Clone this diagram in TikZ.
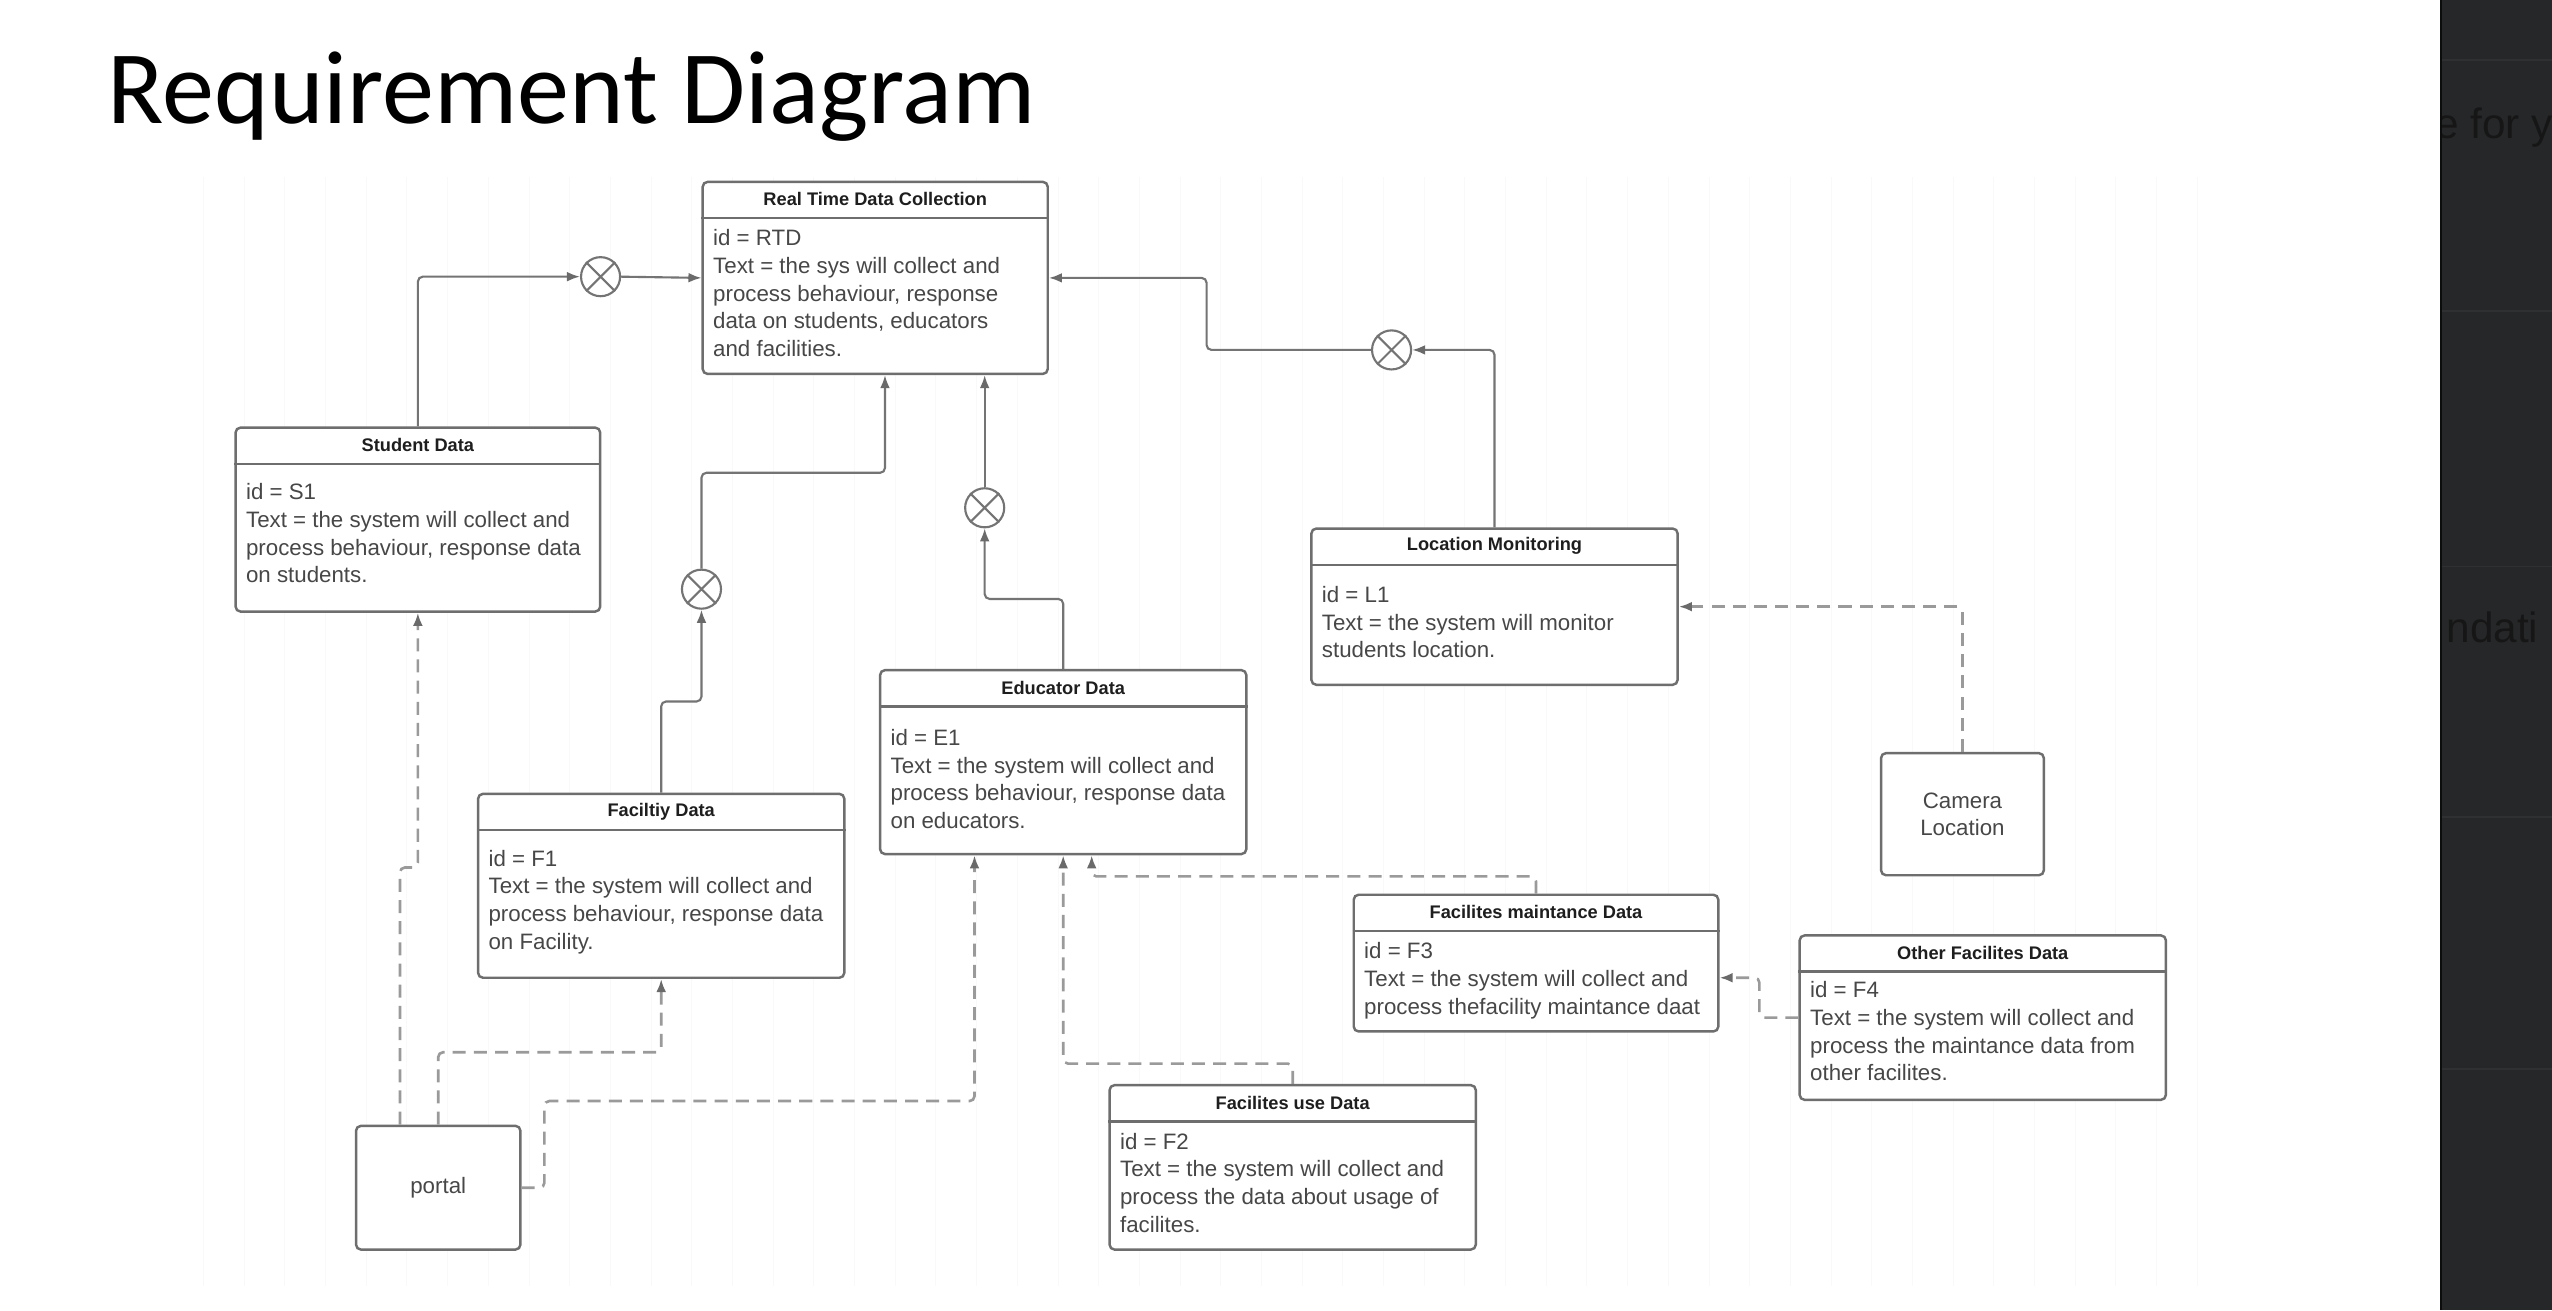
\documentclass[tikz,border=0pt]{standalone}
\usepackage{fontspec}
\setmainfont{Liberation Sans}
\newfontfamily\titlefont{Carlito}
\usetikzlibrary{arrows.meta}

\definecolor{boxline}{HTML}{6E6E6E}
\definecolor{bodytext}{HTML}{474747}
\definecolor{hdrtext}{HTML}{1E1E1E}
\definecolor{solidline}{HTML}{747474}
\definecolor{dashline}{HTML}{9A9A9A}
\definecolor{tipcol}{HTML}{6A6A6A}
\definecolor{panelcol}{HTML}{262728}
\definecolor{panelline}{HTML}{2F3031}
\definecolor{paneltext}{HTML}{161617}
\definecolor{gridcol}{HTML}{F9F9F9}

\newcommand{\ReqBlock}[8]{%
  \node[reqbox, minimum width=#4pt, minimum height=#5pt] (#1) at (#2,#3) {};
  \draw[sepline] ([yshift=-23pt]#1.north west) -- ([yshift=-23pt]#1.north east);
  \node[hdr] (#1-title) at ([yshift=-11.5pt]#1.north) {#6};
  \node[bodytxt] (#1-body) at ([xshift=7pt,yshift=-#7pt]#1.north west) {#8};
}

\begin{document}
\begin{tikzpicture}[x=1pt,y=-1pt,
  reqbox/.style={draw=boxline, line width=1.5pt, rounded corners=3pt, fill=white, anchor=north west, inner sep=0pt},
  simplebox/.style={draw=boxline, line width=1.5pt, rounded corners=3pt, fill=white, anchor=north west, inner sep=0pt, align=center, text=bodytext, font=\fontsize{13.7}{17}\selectfont},
  sepline/.style={draw=boxline, line width=1.5pt},
  hdr/.style={font=\fontsize{11.2}{13}\selectfont\bfseries, text=hdrtext, inner sep=0pt},
  bodytxt/.style={font=\fontsize{13.7}{17}\selectfont, text=bodytext, align=left, anchor=north west, inner sep=0pt},
  xcirc/.style={circle, draw=solidline, line width=1.3pt, minimum size=24pt, inner sep=0pt, fill=white},
  xmark/.style={draw=solidline, line width=1.3pt},
  solidconn/.style={draw=solidline, line width=1.3pt, rounded corners=3pt, -{Latex[length=8pt,width=6pt,color=tipcol]}},
  dashconn/.style={draw=dashline, line width=1.6pt, dash pattern=on 8pt off 5pt, rounded corners=3pt, -{Latex[length=8pt,width=6pt,color=tipcol]}},
]
\useasboundingbox (0,0) rectangle (1568,805);
\fill[white] (0,0) rectangle (1568,805);

% faint canvas grid
\draw[gridcol, line width=0.5pt, step=25] (122,109) grid (1350,790);

% title
\node[font=\titlefont\fontsize{64}{70}\selectfont, anchor=base west, inner sep=0pt] (title) at (66,76) {Requirement Diagram};

% requirement blocks
\ReqBlock{rtd}{431}{111}{212}{118}{Real Time Data Collection}{30}{id = RTD\\Text = the sys will collect and\\process behaviour, response\\data on students, educators\\and facilities.}
\ReqBlock{sd}{144}{262}{224}{113}{Student Data}{35}{id = S1\\Text = the system will collect and\\process behaviour, response data\\on students.}
\ReqBlock{fd}{293}{487}{225}{113}{Faciltiy Data}{35}{id = F1\\Text = the system will collect and\\process behaviour, response data\\on Facility.}
\ReqBlock{ed}{540}{411}{225}{113}{Educator Data}{37}{id = E1\\Text = the system will collect and\\process behaviour, response data\\on educators.}
\ReqBlock{lm}{805}{324}{225}{96}{Location Monitoring}{36}{id = L1\\Text = the system will monitor\\students location.}
\ReqBlock{fm}{831}{549}{224}{84}{Facilites maintance Data}{30}{id = F3\\Text = the system will collect and\\process thefacility maintance daat}
\ReqBlock{of}{1105}{574}{225}{101}{Other Facilites Data}{29}{id = F4\\Text = the system will collect and\\process the maintance data from\\other facilites.}
\ReqBlock{fu}{681}{666}{225}{101}{Facilites use Data}{30}{id = F2\\Text = the system will collect and\\process the data about usage of\\facilites.}

% simple blocks
\node[simplebox, minimum width=100pt, minimum height=75pt] (cam) at (1155,462) {Camera\\Location};
\node[simplebox, minimum width=101pt, minimum height=76pt] (portal) at (218,691) {portal};

% containment circles
\node[xcirc] (c1) at (369,170) {};
\node[xcirc] (c2) at (431,362) {};
\node[xcirc] (c3) at (605,312) {};
\node[xcirc] (c4) at (855,215) {};
\foreach \c in {c1,c2,c3,c4}{
  \draw[xmark] (\c.north west) -- (\c.south east) (\c.north east) -- (\c.south west);
}

% solid containment connectors
\draw[solidconn] (sd.north) |- (c1.west);
\draw[solidconn] (c1.east) -- (rtd.west);
\draw[solidconn] (fd.north) -- ++(0,-56) -| (c2.south);
\draw[solidconn] (c2.north) |- ([xshift=6pt,yshift=-60pt]rtd.south) -- ([xshift=6pt]rtd.south);
\draw[solidconn] (ed.north) -- ++(0,-43) -| (c3.south);
\draw[solidconn] (c3.north) -- (c3.north |- rtd.south);
\draw[solidconn] (lm.north) |- (c4.east);
\draw[solidconn] (c4.west) -- ++(-101,0) |- (rtd.east);

% dashed connectors
\draw[dashconn] ([xshift=-23.5pt]portal.north) -- ++(0,-158) -| (sd.south);
\draw[dashconn] (portal.north) |- ([yshift=-45pt]fd.south) -- (fd.south);
\draw[dashconn] (portal.east) -- ++(14,0) |- ([xshift=-54.5pt,yshift=-151pt]ed.south) -- ([xshift=-54.5pt]ed.south);
\draw[dashconn] (fu.north) |- ([yshift=-128pt]ed.south) -- (ed.south);
\draw[dashconn] (fm.north) |- ([xshift=17.5pt,yshift=-13pt]ed.south) -- ([xshift=17.5pt]ed.south);
\draw[dashconn] (of.west) -- ++(-24,0) |- ([yshift=-9pt]fm.east);
\draw[dashconn] (cam.north) |- (lm.east);

% dark side panel
\fill[panelcol] (1500,0) rectangle (1568,805);
\draw[panelline, line width=1pt] (1500,37) -- (1568,37) (1500,191) -- (1568,191) (1500,348) -- (1568,348) (1500,502) -- (1568,502) (1500,657) -- (1568,657);
\draw[black!70!panelcol, line width=1.2pt] (1500,0) -- (1500,805);
\begin{scope}
  \clip (1500.6,0) rectangle (1568,805);
  \node[font=\fontsize{26}{30}\selectfont, text=paneltext, anchor=base west, inner sep=0pt] (ptext1) at (1496,85) {e for y};
  \node[font=\fontsize{26}{30}\selectfont, text=paneltext, anchor=base west, inner sep=0pt] (ptext2) at (1503,395) {ndati};
\end{scope}
\end{tikzpicture}
\end{document}
